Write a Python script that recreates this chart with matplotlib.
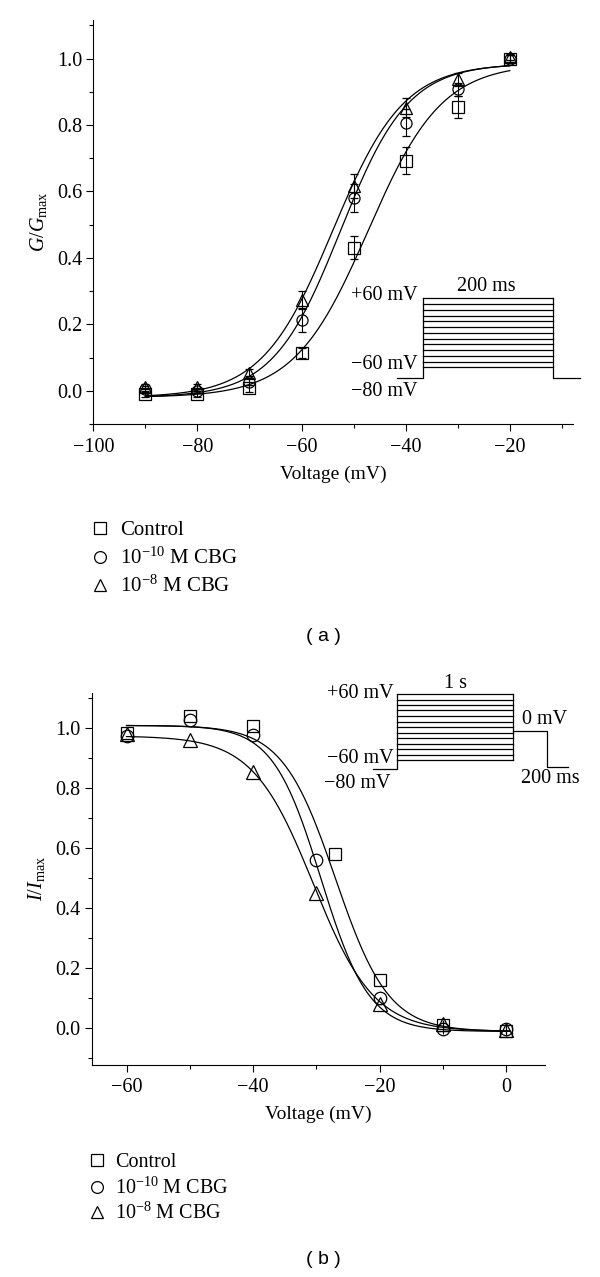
import numpy as np
import matplotlib.pyplot as plt
from matplotlib.lines import Line2D
from matplotlib.ticker import MultipleLocator

plt.rcParams['font.family'] = ['Liberation Serif', 'DejaVu Serif']
plt.rcParams['mathtext.fontset'] = 'custom'
plt.rcParams['mathtext.rm'] = 'Liberation Serif'
plt.rcParams['mathtext.it'] = 'Liberation Serif:italic'
plt.rcParams['mathtext.bf'] = 'Liberation Serif:bold'

series_names = ['Control', r'10$^{-10}$ M CBG', r'10$^{-8}$ M CBG']
markers = ['s', 'o', '^']

# (a) activation, G/Gmax vs voltage
act_v = [-90, -80, -70, -60, -50, -40, -30, -20]
act_ctrl = [-0.01, -0.01, 0.007, 0.115, 0.431, 0.693, 0.855, 1.0]
act_cbg10 = [0.005, 0.0, 0.027, 0.213, 0.581, 0.807, 0.907, 1.0]
act_cbg8 = [0.012, 0.012, 0.055, 0.274, 0.616, 0.852, 0.937, 1.005]
act_ctrl_err = [0.008, 0.008, 0.01, 0.015, 0.035, 0.04, 0.033, 0.01]
act_cbg10_err = [0.008, 0.008, 0.01, 0.035, 0.042, 0.04, 0.02, 0.01]
act_cbg8_err = [0.008, 0.008, 0.012, 0.027, 0.035, 0.028, 0.02, 0.01]

# Boltzmann fit parameters
act_vhalf = [-47.2, -52.5, -54.0]
act_k = [7.1, 6.5, 6.8]
act_bottom = -0.02
act_top = 0.985

# (b) inactivation, I/Imax vs voltage
inact_v_ctrl = [-60, -50, -40, -27, -20, -10, 0]
inact_v = [-60, -50, -40, -30, -20, -10, 0]
inact_ctrl = [0.985, 1.041, 1.008, 0.58, 0.161, 0.01, -0.01]
inact_cbg10 = [0.974, 1.028, 0.978, 0.562, 0.10, -0.002, -0.002]
inact_cbg8 = [0.983, 0.963, 0.855, 0.451, 0.081, 0.014, -0.005]
inact_err = [0, 0, 0, 0, 0, 0.015, 0.015]

inact_vhalf = [-27.0, -29.3, -30.5]
inact_k = [4.2, 3.8, 4.8]
inact_top = [1.01, 1.01, 0.975]
inact_bottom = -0.01

# voltage-step protocol levels (mV) shown in the insets
step_levels = [-60, -50, -40, -30, -20, -10, 0, 10, 20, 30, 40, 50, 60]


def boltzmann(v, a1, a2, v0, k):
    return a2 + (a1 - a2) / (1 + np.exp((v - v0) / k))


W, H = 600, 1277
fig = plt.figure(figsize=(W / 100, H / 100), dpi=100)


def fx(x):
    return x / W


def fy(y):
    return 1 - y / H


def style_axes(ax):
    for s in ['top', 'right']:
        ax.spines[s].set_visible(False)
    for s in ['left', 'bottom']:
        ax.spines[s].set_linewidth(0.8)
    ax.tick_params(which='major', direction='out', length=5, width=0.8, labelsize=14.5)
    ax.tick_params(which='minor', direction='out', length=2.8, width=0.8)
    ax.tick_params(axis='x', pad=5)
    ax.tick_params(axis='y', pad=3)
    ax.xaxis.set_major_locator(MultipleLocator(20))
    ax.xaxis.set_minor_locator(MultipleLocator(10))
    ax.yaxis.set_major_locator(MultipleLocator(0.2))
    ax.yaxis.set_minor_locator(MultipleLocator(0.1))
    ax.yaxis.set_major_formatter(plt.FormatStrFormatter('%.1f'))


# ---- panel (a)
ax1 = fig.add_axes([fx(93.3), fy(424), fx(480), 404 / H])
vfit = np.linspace(-90, -20, 300)
for i in range(3):
    ax1.plot(vfit, boltzmann(vfit, act_bottom, act_top, act_vhalf[i], act_k[i]),
             color='black', lw=0.9, zorder=2)
for y, e, m in zip([act_ctrl, act_cbg10, act_cbg8],
                   [act_ctrl_err, act_cbg10_err, act_cbg8_err], markers):
    ax1.errorbar(act_v, y, yerr=e, fmt=m, ms=8 if m != '^' else 9, mfc='none', mec='black',
                 mew=0.9, ecolor='black', elinewidth=0.8, capsize=3, capthick=0.8, zorder=3)
ax1.set_xlim(-100, -7.8)
ax1.set_ylim(-0.1, 1.116)
style_axes(ax1)
ax1.set_xlabel('Voltage (mV)', fontsize=14, labelpad=6)
ax1.set_ylabel(r'$G/G_{\mathrm{max}}$', fontsize=14.5, labelpad=6)

# ---- panel (b)
ax2 = fig.add_axes([fx(91.7), fy(1064.5), fx(453.3), 371.2 / H])
vfit2 = np.linspace(-60, 0.5, 300)
for i in range(3):
    ax2.plot(vfit2, boltzmann(vfit2, inact_top[i], inact_bottom, inact_vhalf[i], inact_k[i]),
             color='black', lw=0.9, zorder=2)
for xv, y, m in zip([inact_v_ctrl, inact_v, inact_v], [inact_ctrl, inact_cbg10, inact_cbg8], markers):
    ax2.errorbar(xv, y, yerr=inact_err, fmt=m, ms=9 if m != '^' else 10, mfc='none', mec='black',
                 mew=0.9, ecolor='black', elinewidth=0.8, capsize=0, zorder=3)
ax2.set_xlim(-65.5, 6.1)
ax2.set_ylim(-0.12, 1.117)
style_axes(ax2)
ax2.set_xlabel('Voltage (mV)', fontsize=14, labelpad=6)
ax2.set_ylabel(r'$I/I_{\mathrm{max}}$', fontsize=14.5, labelpad=6)


# ---- protocol insets (figure pixel coordinates)
def seg(xs, ys):
    fig.add_artist(Line2D([fx(x) for x in xs], [fy(y) for y in ys],
                          transform=fig.transFigure, color='black', lw=0.9))


def level_y(mv, y_lo, y_hi):
    return y_lo + (mv - step_levels[0]) / (step_levels[-1] - step_levels[0]) * (y_hi - y_lo)


# inset (a)
base_a, lo_a, hi_a = 377.7, 367.3, 298.3
seg([397.3, 423.3, 423.3], [base_a, base_a, hi_a])
for lv in step_levels:
    yy = level_y(lv, lo_a, hi_a)
    seg([423.3, 552.7], [yy, yy])
seg([552.7, 552.7, 580], [hi_a, base_a, base_a])
fs_in = 14.5
fig.text(fx(417.3), fy(295), '+60 mV', ha='right', va='center', fontsize=fs_in)
fig.text(fx(417.3), fy(365), '\u221260 mV', ha='right', va='center', fontsize=fs_in)
fig.text(fx(417.3), fy(391.7), '\u221280 mV', ha='right', va='center', fontsize=fs_in)
fig.text(fx(486.7), fy(286.7), '200 ms', ha='center', va='center', fontsize=fs_in)

# inset (b)
base_b, lo_b, hi_b = 769.3, 760, 694
seg([373.3, 396.7, 396.7], [base_b, base_b, hi_b])
for lv in step_levels:
    yy = level_y(lv, lo_b, hi_b)
    seg([396.7, 513.3], [yy, yy])
seg([513.3, 513.3], [hi_b, lo_b])
seg([513.3, 546.7, 546.7, 568.3], [730.7, 730.7, 766.7, 766.7])
fig.text(fx(393.3), fy(694), '+60 mV', ha='right', va='center', fontsize=fs_in)
fig.text(fx(455), fy(683.3), '1 s', ha='center', va='center', fontsize=fs_in)
fig.text(fx(545), fy(720), '0 mV', ha='center', va='center', fontsize=fs_in)
fig.text(fx(393.3), fy(758.3), '\u221260 mV', ha='right', va='center', fontsize=fs_in)
fig.text(fx(391), fy(783.3), '\u221280 mV', ha='right', va='center', fontsize=fs_in)
fig.text(fx(550), fy(778.3), '200 ms', ha='center', va='center', fontsize=fs_in)


# ---- legends
def legend_rows(xm, xt, ys, fs, ms):
    for y, m, name in zip(ys, markers, series_names):
        fig.add_artist(Line2D([fx(xm)], [fy(y)], transform=fig.transFigure, marker=m,
                              ms=ms, mfc='none', mec='black', mew=0.9, ls='none'))
        fig.text(fx(xt), fy(y + 7), name, ha='left', va='baseline', fontsize=fs)


legend_rows(100, 120, [528, 556.7, 585], 15, 8.5)
legend_rows(97, 115, [1160, 1187, 1212], 14.5, 8.5)

fig.text(fx(323), fy(636.7), '( a )', ha='center', va='center', fontsize=14,
         family=['Liberation Sans', 'DejaVu Sans'])
fig.text(fx(323), fy(1260), '( b )', ha='center', va='center', fontsize=14,
         family=['Liberation Sans', 'DejaVu Sans'])

fig.savefig('out.png', dpi=100)
